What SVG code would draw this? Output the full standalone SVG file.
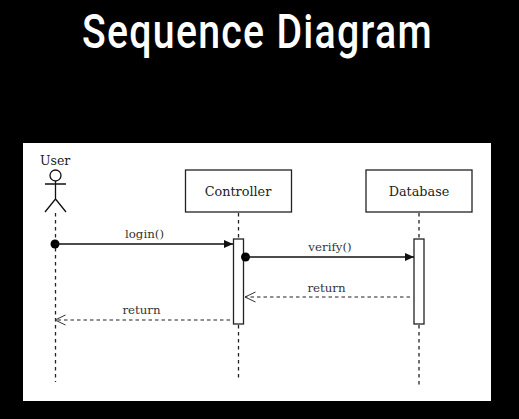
<svg xmlns="http://www.w3.org/2000/svg" width="519" height="419" viewBox="0 0 519 419">
<defs>
<style>
.t{font-family:"DejaVu Serif",serif;font-size:12.800px;fill:#222}
.m{font-family:"DejaVu Serif",serif;font-size:11.800px;fill:#333;text-anchor:middle}
.b{fill:#fff;stroke:#222;stroke-width:1.300}
.l{stroke:#222;stroke-width:1.300;fill:none;stroke-dasharray:3.500 3.500}
.s{stroke:#111;stroke-width:1.300;fill:none}
.d{stroke:#222;stroke-width:1.100;fill:none;stroke-dasharray:3.500 3}
</style>
<marker id="solid" markerUnits="userSpaceOnUse" markerWidth="10" markerHeight="10" refX="9" refY="4" orient="auto"><path d="M0 0L9 4L0 8Z" fill="#111"/></marker>
<marker id="open" markerUnits="userSpaceOnUse" markerWidth="12" markerHeight="12" refX="11" refY="5.500" orient="auto"><path d="M0.500 0.500L11 5.500L0.500 10.500" fill="none" stroke="#333" stroke-width="1"/></marker>
</defs>
<rect width="519" height="419" fill="#000"/>
<text transform="translate(82 48) scale(.8 1)" x="0" y="0" textLength="437" lengthAdjust="spacing" style="font-family:Roboto,sans-serif;font-size:49px;font-weight:500;fill:#fff">Sequence Diagram</text>
<rect x="23" y="143" width="468" height="258" fill="#fff"/>
<g id="lifelines">
<path class="l" d="M55.500 213V382"/>
<path class="l" d="M238.500 213V381"/>
<path class="l" d="M419 213V386"/>
</g>
<g id="user">
<text class="t" x="40" y="165" style="font-size:12.500px">User</text>
<circle cx="55.500" cy="175.500" r="5.500" class="s" fill="#fff"/>
<path class="s" d="M55.500 181V199M45 184H66M55.500 199L45 212M55.500 199L66 212"/>
</g>
<g id="controller">
<rect class="b" x="185.500" y="170" width="106" height="42"/>
<text class="t" x="238" y="196" text-anchor="middle">Controller</text>
<rect class="b" x="233.500" y="239" width="10" height="85"/>
</g>
<g id="database">
<rect class="b" x="366" y="170" width="106" height="42"/>
<text class="t" x="419" y="196" text-anchor="middle">Database</text>
<rect class="b" x="414" y="239" width="10" height="85"/>
</g>
<g id="connectors">
<circle cx="55" cy="244" r="4.500" fill="#000"/>
<path class="s" d="M55 244H233" marker-end="url(#solid)"/>
<text class="m" x="144.500" y="238">login()</text>
<circle cx="245.500" cy="257" r="4.500" fill="#000"/>
<path class="s" d="M245 257H414" marker-end="url(#solid)"/>
<text class="m" x="330" y="251">verify()</text>
<path class="d" d="M410 297H245" marker-end="url(#open)"/>
<text class="m" x="326.500" y="291.500">return</text>
<path class="d" d="M230 320H55" marker-end="url(#open)"/>
<text class="m" x="141.500" y="314">return</text>
</g>
</svg>
